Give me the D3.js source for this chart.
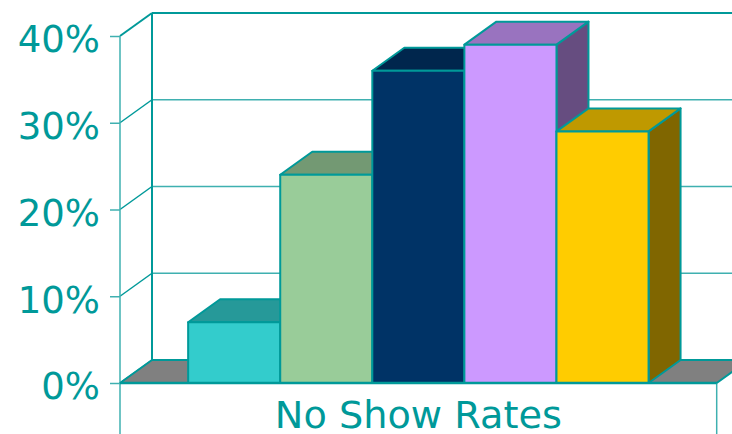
<!DOCTYPE html>
<html>
<head>
<meta charset="utf-8">
<script src="https://d3js.org/d3.v7.min.js"></script>
<style>
  body { margin: 0; background: #fff; }
  svg { display: block; }
</style>
</head>
<body>
<svg></svg>
<script>
// data
var categories = ["A", "B", "C", "D", "E"]
var values = [7, 24, 36, 39, 29]
var frontColors = ["#33CCCC", "#99CC99", "#003366", "#CC99FF", "#FFCC00"]
var yTicks = [0, 10, 20, 30, 40]
var title = "No Show Rates"

var screen = {width: 732, height: 434}
var plot = {left: 120, right: 716.7, top: 36, bottom: 383}
var depth = {dx: 32, dy: 23}
var teal = "#009999"

var svg = d3.select("svg")
    .attr("width", screen.width)
    .attr("height", screen.height)

var xScale = d3.scaleBand()
    .domain(categories)
    .range([plot.left, plot.right])
    .paddingInner(0)
    .paddingOuter(0.74)

var yScale = d3.scaleLinear()
    .domain([0, 40])
    .range([plot.bottom, plot.top])

var shade = function(c, k) {
    var col = d3.rgb(c)
    return d3.rgb(col.r * k, col.g * k, col.b * k).formatHex()
}

// back wall + left wall gridlines
var grid = svg.append("g")
grid.selectAll("line.back")
    .data(yTicks)
    .enter()
    .append("line")
    .attr("x1", plot.left + depth.dx)
    .attr("x2", screen.width + 20)
    .attr("y1", function(d){return yScale(d) - depth.dy})
    .attr("y2", function(d){return yScale(d) - depth.dy})
    .attr("stroke", function(d){return d == 40 ? teal : "#3fb0b0"})
    .attr("stroke-width", function(d){return d == 40 ? 2 : 1.3})

grid.selectAll("line.side")
    .data(yTicks)
    .enter()
    .append("line")
    .attr("x1", plot.left)
    .attr("x2", plot.left + depth.dx)
    .attr("y1", function(d){return yScale(d)})
    .attr("y2", function(d){return yScale(d) - depth.dy})
    .attr("stroke", teal)
    .attr("stroke-width", function(d){return d == 40 ? 2 : 1.5})

grid.append("line")
    .attr("x1", plot.left + depth.dx).attr("x2", plot.left + depth.dx)
    .attr("y1", yScale(40) - depth.dy).attr("y2", yScale(0) - depth.dy)
    .attr("stroke", teal).attr("stroke-width", 2)

// floor
var b = plot.bottom
svg.append("path")
    .attr("d", "M" + plot.left + "," + b +
        "L" + (plot.left + depth.dx) + "," + (b - depth.dy) +
        "L" + (plot.right + depth.dx) + "," + (b - depth.dy) +
        "L" + plot.right + "," + b + "Z")
    .attr("fill", "#808080")
    .attr("stroke", teal)
    .attr("stroke-width", 2)
    .attr("stroke-linejoin", "round")

// front y axis
var yAxis = d3.axisLeft(yScale)
    .tickValues(yTicks)
    .tickSize(10)
    .tickFormat(function(d){return d + "%"})

var ax = svg.append("g")
    .attr("transform", "translate(" + plot.left + ",0)")
    .call(yAxis)
ax.select(".domain").remove()
ax.selectAll(".tick line").attr("stroke", "#3fb0b0").attr("stroke-width", 1.5)
ax.selectAll(".tick text")
    .attr("x", -20)
    .attr("dy", "0.43em")
    .attr("fill", teal)
    .style("font-family", "'DejaVu Sans', Verdana, sans-serif")
    .style("font-size", "37px")

svg.append("line")
    .attr("x1", plot.left).attr("x2", plot.left)
    .attr("y1", plot.top).attr("y2", screen.height)
    .attr("stroke", "#3fb0b0").attr("stroke-width", 1.5)
svg.append("line")
    .attr("x1", plot.right).attr("x2", plot.right)
    .attr("y1", plot.bottom).attr("y2", screen.height)
    .attr("stroke", "#3fb0b0").attr("stroke-width", 1.5)

// bars, left to right so each hides its neighbour's side
var bars = svg.append("g")
    .selectAll("g")
    .data(values)
    .enter()
    .append("g")
    .attr("stroke", teal)
    .attr("stroke-width", 2)
    .attr("stroke-linejoin", "round")

bars.append("path")
    .attr("d", function(d, i) {
        var x1 = xScale(categories[i]) + xScale.bandwidth()
        var y0 = yScale(0), y1 = yScale(d)
        return "M" + x1 + "," + y0 + "L" + x1 + "," + y1 +
            "L" + (x1 + depth.dx) + "," + (y1 - depth.dy) +
            "L" + (x1 + depth.dx) + "," + (y0 - depth.dy) + "Z"
    })
    .attr("fill", function(d, i){return shade(frontColors[i], 0.5)})

bars.append("path")
    .attr("d", function(d, i) {
        var x0 = xScale(categories[i]), x1 = x0 + xScale.bandwidth()
        var y1 = yScale(d)
        return "M" + x0 + "," + y1 + "L" + (x0 + depth.dx) + "," + (y1 - depth.dy) +
            "L" + (x1 + depth.dx) + "," + (y1 - depth.dy) + "L" + x1 + "," + y1 + "Z"
    })
    .attr("fill", function(d, i){return shade(frontColors[i], 0.75)})

bars.append("rect")
    .attr("x", function(d, i){return xScale(categories[i])})
    .attr("y", function(d){return yScale(d)})
    .attr("width", xScale.bandwidth())
    .attr("height", function(d){return yScale(0) - yScale(d)})
    .attr("fill", function(d, i){return frontColors[i]})

// front baseline
svg.append("line")
    .attr("x1", plot.left).attr("x2", plot.right)
    .attr("y1", plot.bottom).attr("y2", plot.bottom)
    .attr("stroke", teal).attr("stroke-width", 2.5)

svg.append("text")
    .attr("x", (plot.left + plot.right) / 2)
    .attr("y", 428)
    .attr("text-anchor", "middle")
    .attr("fill", teal)
    .attr("textLength", 287)
    .attr("lengthAdjust", "spacingAndGlyphs")
    .style("font-family", "'DejaVu Sans', Verdana, sans-serif")
    .style("font-size", "37px")
    .text(title)
</script>
</body>
</html>
